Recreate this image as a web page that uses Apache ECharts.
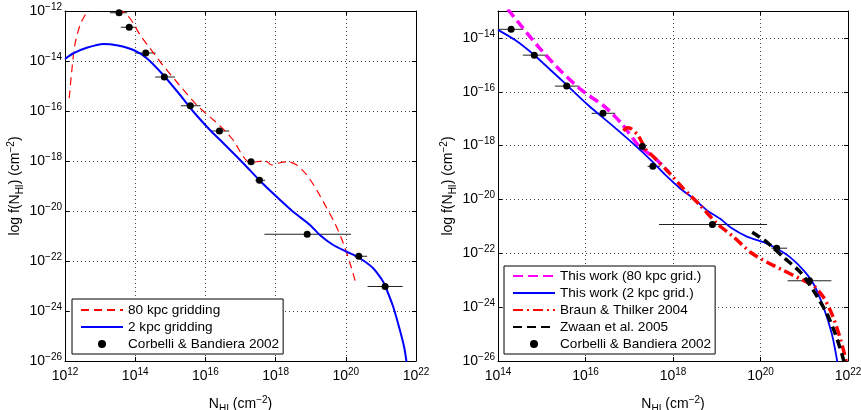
<!DOCTYPE html>
<html><head><meta charset="utf-8">
<script src="https://cdn.jsdelivr.net/npm/echarts@6/dist/echarts.min.js"></script>
<style>html,body{margin:0;padding:0;background:#fff}#c{width:861px;height:410px}</style>
</head><body><div id="c"></div>
<script>
// All values are log10 exponents (x: log N_HI, y: log f(N_HI))
// Corbelli & Bandiera 2002 points with horizontal error bars
const cbX  = [13.54, 13.83, 14.30, 14.83, 15.57, 16.40, 17.30, 17.54, 18.90, 20.37, 21.12];
const cbY  = [-12.07, -12.65, -13.68, -14.64, -15.79, -16.80, -18.03, -18.77, -20.93, -21.81, -23.02];
const cbLo = [13.28, 13.59, 13.99, 14.57, 15.30, 16.14, 17.26, 17.42, 17.68, 20.25, 20.62];
const cbHi = [13.77, 14.04, 14.58, 15.13, 15.86, 16.68, 17.34, 17.70, 20.15, 20.61, 21.62];

// Left panel: 80 kpc gridding
const l80X = [12.12, 12.19, 12.28, 12.43, 12.66, 12.9, 13.2, 13.45, 13.61, 13.85, 14.14, 14.42, 14.71, 15.18, 15.75, 16.23, 16.42, 16.79, 17.08, 17.27, 17.45, 17.70, 17.89, 18.13, 18.36, 18.60, 18.89, 19.17, 19.46, 19.69, 19.93, 20.12, 20.26, 20.29];
const l80Y = [-15.49, -14.43, -13.36, -12.56, -11.96, -11.6, -11.5, -11.65, -11.96, -12.29, -12.96, -13.49, -14.03, -14.83, -15.76, -16.36, -16.60, -17.16, -17.83, -18.07, -18.03, -17.99, -18.16, -18.07, -18.03, -18.16, -18.56, -19.16, -19.89, -20.49, -21.29, -22.09, -22.76, -22.95];
// Left panel: 2 kpc gridding
const l2X = [12.0, 12.24, 12.62, 13.09, 13.47, 13.95, 14.33, 14.80, 15.28, 15.66, 16.13, 16.42, 17.08, 17.56, 18.03, 18.50, 18.98, 19.26, 19.64, 20.03, 20.40, 20.78, 21.02, 21.10, 21.35, 21.54, 21.66, 21.73, 21.76];
const l2Y = [-13.92, -13.69, -13.47, -13.32, -13.37, -13.56, -13.89, -14.56, -15.36, -16.03, -16.76, -17.16, -18.09, -18.80, -19.43, -20.03, -20.56, -20.96, -21.36, -21.63, -21.89, -22.29, -22.73, -22.93, -23.83, -24.76, -25.43, -26.03, -26.4];

// Right panel
const r80X = [14.0, 14.24, 14.55, 14.93, 15.46, 15.92, 16.45, 16.83, 17.21, 17.60, 17.90];
const r80Y = [-12.5, -12.97, -13.59, -14.34, -15.27, -15.95, -16.57, -17.19, -17.99, -18.49, -18.98];
const r2X = [14.0, 14.40, 14.85, 15.46, 16.07, 16.61, 17.14, 17.50, 17.82, 18.17, 18.47, 18.78, 19.08, 19.31, 19.69, 20.07, 20.38, 20.68, 20.99, 21.21, 21.44, 21.63, 21.75, 21.77];
const r2Y = [-13.70, -14.09, -14.67, -15.58, -16.51, -17.25, -18.0, -18.55, -19.08, -19.60, -19.97, -20.41, -20.72, -21.03, -21.38, -21.59, -21.83, -22.15, -22.64, -23.13, -24.0, -24.99, -25.98, -26.3];
const btX = [16.87, 16.95, 17.05, 17.21, 17.37, 17.60, 17.86, 18.24, 18.62, 19.01, 19.39, 19.77, 20.15, 20.53, 20.91, 21.21, 21.44, 21.63, 21.79, 21.92, 21.97];
const btY = [-17.45, -17.34, -17.38, -17.64, -18.12, -18.49, -18.92, -19.60, -20.22, -20.90, -21.40, -21.96, -22.33, -22.64, -22.95, -23.20, -23.63, -24.25, -24.99, -25.74, -26.1];
const zwX = [19.81, 20.15, 20.53, 20.91, 21.21, 21.52, 21.71, 21.86, 21.92];
const zwY = [-21.22, -21.59, -22.15, -22.70, -23.38, -24.25, -24.99, -25.74, -26.1];

// Axis ranges (exponents) and tick step
const leftX = [12, 22], leftY = [-26, -12];
const rightX = [14, 22], rightY = [-26, -13];
const tickStep = 2;

const legendLeft = ['80 kpc gridding', '2 kpc gridding', 'Corbelli & Bandiera 2002'];
const legendRight = ['This work (80 kpc grid.)', 'This work (2 kpc grid.)', 'Braun & Thilker 2004', 'Zwaan et al. 2005', 'Corbelli & Bandiera 2002'];

const FF = 'Liberation Sans, Arial, Helvetica, sans-serif';
const zip = (a, b) => a.map((v, i) => [v, b[i]]);

function powLabel(v) {
  const n = Math.round(v);
  if (Math.abs(v - n) > 1e-9 || n % tickStep !== 0) return '';
  return '{b|10}{s|' + (n < 0 ? '\u2212' : '') + Math.abs(n) + '}';
}
const labelRich = {
  b: { fontSize: 14, fontFamily: FF, color: '#000' },
  s: { fontSize: 10, fontFamily: FF, color: '#000', padding: [0, 0, 8, 0] }
};
const nameRich = {
  a: { fontSize: 14, fontFamily: FF, color: '#000' },
  sub: { fontSize: 10, fontFamily: FF, color: '#000', padding: [9, 0, 0, 0] },
  sup: { fontSize: 10, fontFamily: FF, color: '#000', padding: [0, 0, 9, 0] }
};
const xName = '{a|N}{sub|HI}{a| (cm}{sup|\u22122}{a|)}';
const yName = '{a|log f(N}{sub|HI}{a|) (cm}{sup|\u22122}{a|)}';

const lineAx = { show: true, onZero: false, lineStyle: { color: '#000', width: 1 } };
const tickAx = { show: true, inside: true, length: 4, lineStyle: { color: '#000', width: 1 } };
const splitAx = { show: true, lineStyle: { color: '#444', width: 1, type: [1, 3] } };

function mainX(grid, r) {
  return { type: 'value', gridIndex: grid, position: 'bottom', min: r[0], max: r[1], interval: tickStep,
    axisLine: lineAx, axisTick: tickAx, splitLine: splitAx,
    axisLabel: { formatter: powLabel, rich: labelRich, margin: 6 },
    name: xName, nameLocation: 'middle', nameGap: 34, nameTextStyle: { rich: nameRich, fontFamily: FF } };
}
function boxX(grid, r) {
  return { type: 'value', gridIndex: grid, position: 'top', min: r[0], max: r[1], interval: tickStep,
    axisLine: lineAx, axisTick: tickAx, splitLine: { show: false }, axisLabel: { show: false } };
}
function mainY(grid, r) {
  return { type: 'value', gridIndex: grid, position: 'left', min: r[0], max: r[1], interval: tickStep,
    axisLine: lineAx, axisTick: tickAx, splitLine: splitAx,
    axisLabel: { formatter: powLabel, rich: labelRich, margin: 3 },
    name: yName, nameLocation: 'middle', nameGap: 40, nameRotate: 90, nameTextStyle: { rich: nameRich, fontFamily: FF } };
}
function boxY(grid, r) {
  return { type: 'value', gridIndex: grid, position: 'right', min: r[0], max: r[1], interval: tickStep,
    axisLine: lineAx, axisTick: tickAx, splitLine: { show: false }, axisLabel: { show: false } };
}

function errSeries(xi, yi) {
  return {
    type: 'custom', name: 'err', xAxisIndex: xi, yAxisIndex: yi, clip: true, z: 1, silent: true,
    data: cbX.map((x, i) => [x, cbY[i], cbLo[i], cbHi[i]]),
    encode: { x: [0, 2, 3], y: 1 },
    renderItem: (params, api) => {
      const y = api.value(1);
      const p1 = api.coord([api.value(2), y]);
      const p2 = api.coord([api.value(3), y]);
      return { type: 'line', shape: { x1: p1[0], y1: p1[1], x2: p2[0], y2: p2[1] },
        style: { stroke: '#222', lineWidth: 1 } };
    }
  };
}
function lineSeries(name, xi, yi, xs, ys, color, width, dash, z) {
  return { type: 'line', name, xAxisIndex: xi, yAxisIndex: yi, data: zip(xs, ys),
    symbol: 'none', showSymbol: false, smooth: 0.25, clip: true, z: z || 2,
    lineStyle: { color, width, type: dash }, itemStyle: { color } };
}
function dotSeries(xi, yi) {
  return { type: 'scatter', name: 'Corbelli & Bandiera 2002', xAxisIndex: xi, yAxisIndex: yi,
    data: zip(cbX, cbY), symbol: 'circle', symbolSize: 7, clip: true, z: 5,
    itemStyle: { color: '#000', opacity: 1 } };
}

const legendCommon = {
  orient: 'vertical', itemWidth: 42, itemHeight: 8, itemGap: 3, selectedMode: false,
  borderColor: '#000', borderWidth: 1, backgroundColor: '#fff', borderRadius: 0,
  textStyle: { fontSize: 13.6, fontFamily: FF, color: '#000' }
};
const legendItems = names => names.map(n => n === 'Corbelli & Bandiera 2002'
  ? { name: n, itemStyle: { opacity: 1 } }
  : { name: n, itemStyle: { opacity: 0 } });

const option = {
  animation: false,
  backgroundColor: '#fff',
  grid: [
    { left: 65, top: 11, width: 351, height: 350, containLabel: false, outerBoundsMode: 'none' },
    { left: 498, top: 11, width: 350, height: 350, containLabel: false, outerBoundsMode: 'none' }
  ],
  xAxis: [mainX(0, leftX), boxX(0, leftX), mainX(1, rightX), boxX(1, rightX)],
  yAxis: [mainY(0, leftY), boxY(0, leftY), mainY(1, rightY), boxY(1, rightY)],
  legend: [
    Object.assign({}, legendCommon, { left: 72, top: 299, padding: [4, 4, 3, 8], data: legendItems(legendLeft) }),
    Object.assign({}, legendCommon, { left: 504, top: 266, padding: [3, 4, 3, 8], data: legendItems(legendRight) })
  ],
  series: [
    errSeries(0, 0),
    lineSeries('80 kpc gridding', 0, 0, l80X, l80Y, '#ff0000', 1.2, [8, 5]),
    lineSeries('2 kpc gridding', 0, 0, l2X, l2Y, '#0000ff', 2, 'solid'),
    dotSeries(0, 0),
    errSeries(2, 2),
    lineSeries('This work (80 kpc grid.)', 2, 2, r80X, r80Y, '#ff00ff', 3.5, [10, 5], 2),
    lineSeries('This work (2 kpc grid.)', 2, 2, r2X, r2Y, '#0000ff', 1.8, 'solid', 3),
    lineSeries('Braun & Thilker 2004', 2, 2, btX, btY, '#ff0000', 3.5, [10, 4, 2, 4], 3),
    lineSeries('Zwaan et al. 2005', 2, 2, zwX, zwY, '#000000', 3.5, [9, 5], 4),
    dotSeries(2, 2)
  ]
};
const chart = echarts.init(document.getElementById('c'), null, { renderer: 'canvas' });
chart.setOption(option);
</script></body></html>
